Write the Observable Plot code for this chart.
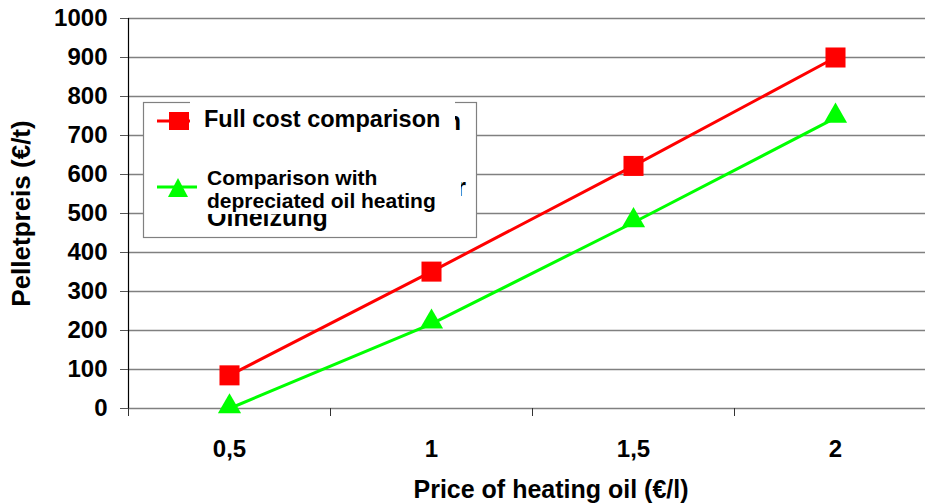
<!DOCTYPE html>
<html>
<head>
<meta charset="utf-8">
<script src="https://cdn.jsdelivr.net/npm/d3@7"></script>
<script src="https://cdn.jsdelivr.net/npm/@observablehq/plot@0.6"></script>
<style>
  html, body { margin: 0; padding: 0; background: #fff; }
  #chart svg { display: block; }
</style>
</head>
<body>
<div id="chart"></div>
<script>
// ---- data ----
const priceLabels = ["0,5", "1", "1,5", "2"];
const priceValues = [0.5, 1, 1.5, 2];
const fullCost = [85, 351, 622, 900];
const depreciated = [0, 217, 477, 745];
const yTicks = [0, 100, 200, 300, 400, 500, 600, 700, 800, 900, 1000];
const xBoundaries = [0.25, 0.75, 1.25, 1.75, 2.25];
const seriesNames = ["Full cost comparison", "Comparison with", "depreciated oil heating"];
const hiddenGerman = ["n", "r", "Ölheizung"];
const xTitle = "Price of heating oil (€/l)";
const yTitle = "Pelletpreis (€/t)";

const rows = [];
priceValues.forEach((p, i) => rows.push({series: "full", x: p, y: fullCost[i]}));
priceValues.forEach((p, i) => rows.push({series: "dep", x: p, y: depreciated[i]}));
const full = rows.filter(d => d.series === "full");
const dep = rows.filter(d => d.series === "dep");

const FONT = "'Liberation Sans', Arial, Helvetica, sans-serif";

const chart = Plot.plot({
  width: 925,
  height: 504,
  marginLeft: 128,
  marginTop: 18,
  marginBottom: 96,
  marginRight: 0,
  style: {fontFamily: FONT, background: "#fff", color: "#000"},
  x: {type: "linear", domain: [0.25, 2.25], range: [128, 936]},
  y: {domain: [0, 1000], range: [408, 18]},
  marks: [
    Plot.gridY(yTicks, {stroke: "#808080", strokeOpacity: 1, strokeWidth: 1.6}),
    Plot.ruleX([0.25], {y1: 0, y2: 1000, stroke: "#000", strokeWidth: 1.2}),
    Plot.axisY(yTicks, {
      tickSize: 8, tickPadding: 13, fontSize: 24, fontWeight: "bold",
      stroke: "#555", label: null, tickFormat: d => String(d)
    }),
    Plot.axisX(xBoundaries, {tickSize: 8, stroke: "#333", tickFormat: () => "", label: null}),
    Plot.axisX(priceValues, {
      tickSize: 0, tickPadding: 31, fontSize: 24, fontWeight: "bold",
      tickFormat: (d, i) => priceLabels[i], label: null
    }),
    Plot.text([xTitle], {
      frameAnchor: "bottom", dy: 81, dx: 24, text: d => d,
      fontSize: 25, fontWeight: "bold", lineAnchor: "middle", textAnchor: "middle", fill: "#000"
    }),
    Plot.text([yTitle], {
      frameAnchor: "left", dx: -107, text: d => d, rotate: -90,
      fontSize: 26, fontWeight: "bold", lineAnchor: "middle", textAnchor: "middle", fill: "#000"
    }),
    Plot.line(full, {x: "x", y: "y", stroke: "#ff0000", strokeWidth: 3}),
    Plot.line(dep, {x: "x", y: "y", stroke: "#00ff00", strokeWidth: 3}),
    Plot.dot(full, {x: "x", y: "y", symbol: "square", r: 11.3, fill: "#ff0000", stroke: "none"}),
    Plot.dot(dep, {x: "x", y: "y", symbol: "triangle", r: 8.6, fill: "#00ff00", stroke: "none", dy: -2})
  ]
});

document.getElementById("chart").appendChild(chart);

// ---- legend (overlay) ----
const svg = d3.select(chart);
const defs = svg.append("defs");
defs.append("clipPath").attr("id", "clipN").append("rect").attr("x", 455).attr("y", 100).attr("width", 12).attr("height", 40);
defs.append("clipPath").attr("id", "clipR").append("rect").attr("x", 461).attr("y", 170).attr("width", 10).attr("height", 40);
defs.append("clipPath").attr("id", "clipOel").append("rect").attr("x", 200).attr("y", 214).attr("width", 200).attr("height", 23);

const g = svg.append("g").attr("font-family", FONT).attr("font-weight", "bold").attr("text-anchor", "start");
// legend frame with white fill
g.append("rect").attr("x", 143.5).attr("y", 102.5).attr("width", 333).attr("height", 135)
  .attr("fill", "#fff").attr("stroke", "#808080").attr("stroke-width", 1.2);
// white patch that breaks the top frame line
g.append("rect").attr("x", 190).attr("y", 100).attr("width", 265).attr("height", 6).attr("fill", "#fff");
// fragments of the original legend text, mostly covered
g.append("text").attr("x", 461).attr("y", 130).attr("text-anchor", "end").attr("font-size", 25)
  .attr("clip-path", "url(#clipN)").text(hiddenGerman[0]);
g.append("text").attr("x", 466).attr("y", 196).attr("text-anchor", "end").attr("font-size", 25)
  .attr("clip-path", "url(#clipR)").text(hiddenGerman[1]);
g.append("text").attr("x", 207).attr("y", 226).attr("font-size", 25)
  .attr("clip-path", "url(#clipOel)").text(hiddenGerman[2]);
// red entry
g.append("line").attr("x1", 157).attr("x2", 190).attr("y1", 121).attr("y2", 121)
  .attr("stroke", "#ff0000").attr("stroke-width", 3);
g.append("rect").attr("x", 169).attr("y", 112).attr("width", 20).attr("height", 18).attr("fill", "#ff0000");
g.append("text").attr("x", 204).attr("y", 127).attr("font-size", 23.5).text(seriesNames[0]);
// green entry
g.append("line").attr("x1", 157).attr("x2", 197).attr("y1", 187).attr("y2", 187)
  .attr("stroke", "#00ff00").attr("stroke-width", 3);
g.append("path").attr("d", "M178,178 L188,197 L168,197 Z").attr("fill", "#00ff00");
g.append("text").attr("x", 207).attr("y", 185).attr("font-size", 21).text(seriesNames[1]);
g.append("text").attr("x", 207).attr("y", 208).attr("font-size", 21).text(seriesNames[2]);
</script>
</body>
</html>
